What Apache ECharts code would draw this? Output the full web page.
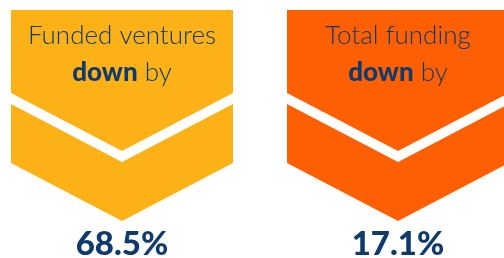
<!DOCTYPE html>
<html>
<head>
<meta charset="utf-8">
<script src="https://cdn.jsdelivr.net/npm/echarts@6/dist/echarts.min.js"></script>
<style>
  html, body { margin: 0; padding: 0; background: #fff; }
  #main { width: 504px; height: 258px; }
</style>
</head>
<body>
<div id="main"></div>
<script>
var categories = ['Funded ventures', 'Total funding'];
var values = [68.5, 17.1];
var colors = ['#FCB117', '#FF5F03'];

var chart = echarts.init(document.getElementById('main'), null, { renderer: 'canvas' });

var navy = '#0E3A6E';
var font = 'Lato';

function renderItem(params, api) {
  var idx = api.value(0);
  var cx = api.coord([idx, 0])[0];
  var w = 111;
  var col = colors[idx];
  return {
    type: 'group',
    children: [{
      type: 'polygon',
      shape: { points: [[cx - w, 10], [cx + w, 10], [cx + w, 93], [cx, 151], [cx - w, 93]] },
      style: { fill: col }
    }, {
      type: 'polygon',
      shape: { points: [[cx - w, 104], [cx, 162], [cx + w, 104], [cx + w, 163], [cx, 221], [cx - w, 163]] },
      style: { fill: col }
    }, {
      type: 'text',
      x: cx, y: 36,
      style: {
        text: categories[idx], fill: navy, font: '300 26px ' + font,
        align: 'center', verticalAlign: 'middle'
      }
    }, {
      type: 'text',
      x: cx, y: 73,
      style: {
        text: '{b|down} by',
        align: 'center', verticalAlign: 'middle',
        fill: navy, fontFamily: font, fontSize: 26, fontWeight: 300,
        rich: {
          b: { fill: navy, fontFamily: font, fontSize: 26, fontWeight: 900 }
        }
      }
    }, {
      type: 'text',
      x: cx, y: 244,
      style: {
        text: api.value(1).toFixed(1) + '%', fill: navy,
        font: '900 33px ' + font, align: 'center', verticalAlign: 'middle'
      }
    }]
  };
}

chart.setOption({
  animation: false,
  grid: { left: 122, right: 106, top: 0, bottom: 0 },
  xAxis: { type: 'category', data: categories, boundaryGap: false, show: false },
  yAxis: { type: 'value', min: 0, max: 100, show: false },
  series: [{
    type: 'custom',
    renderItem: renderItem,
    data: values.map(function (v, i) { return [i, v]; }),
    clip: false
  }]
});
</script>
</body>
</html>
